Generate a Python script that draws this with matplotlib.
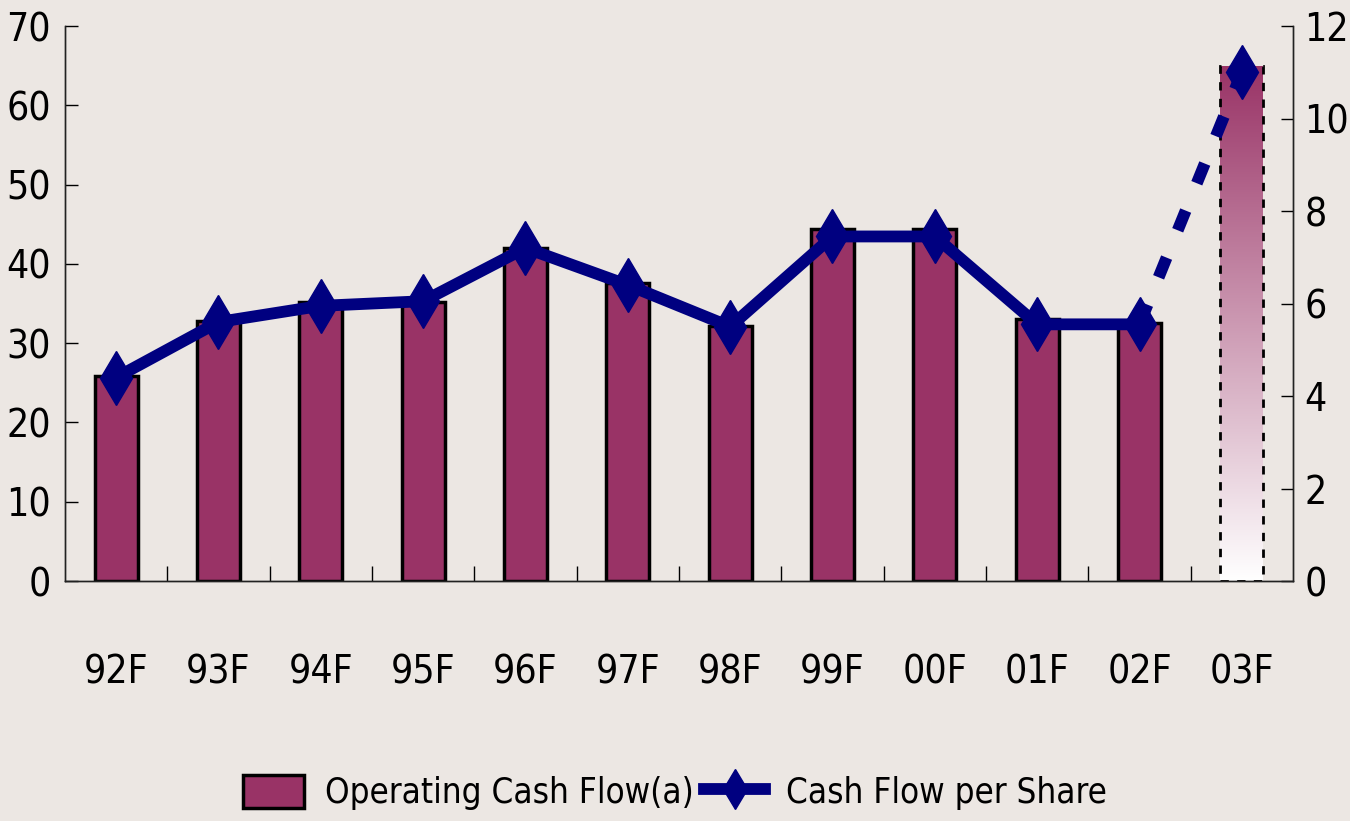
import numpy as np
import matplotlib
matplotlib.use("Agg")
import matplotlib.pyplot as plt
from matplotlib.patches import Patch
from matplotlib.lines import Line2D
from matplotlib.ticker import FixedLocator
from matplotlib.colors import LinearSegmentedColormap
from matplotlib import font_manager as fm

# ---- data ----
categories = ["92F", "93F", "94F", "95F", "96F", "97F", "98F", "99F", "00F", "01F", "02F", "03F"]
operating_cash_flow = [25.8, 32.8, 35.2, 35.2, 42.0, 37.6, 32.2, 44.4, 44.4, 33.1, 32.6, 65.0]
cash_flow_per_share = [4.4, 5.6, 5.95, 6.05, 7.2, 6.4, 5.5, 7.45, 7.45, 5.55, 5.55, 11.0]
left_ticks = [0, 10, 20, 30, 40, 50, 60, 70]
right_ticks = [0, 2, 4, 6, 8, 10, 12]
n_actual = 11  # first 11 are solid, last is forecast

BG = "#ECE7E3"
BAR = "#993366"
NAVY = "#000080"

cond = [f for f in fm.fontManager.ttflist
        if f.name == "DejaVu Sans" and "ondensed" in str(f.stretch) + f.fname]
plt.rcParams['font.family'] = ['DejaVu Sans']
if cond:
    plt.rcParams['font.stretch'] = 'condensed'
FS = 28 if cond else 24
LFS = 25 if cond else 21

fig = plt.figure(figsize=(13.5, 8.21), dpi=100, facecolor=BG)
ax = fig.add_axes([0.0481, 0.2923, 0.9097, 0.676])
ax.set_facecolor(BG)
ax2 = ax.twinx()

x = np.arange(len(categories))
bars = ax.bar(x[:n_actual], operating_cash_flow[:n_actual], width=0.42,
              color=BAR, edgecolor="black", linewidth=2.5, zorder=2)

# forecast bar with gradient + dashed outline
fb = ax.bar(x[n_actual:], operating_cash_flow[n_actual:], width=0.42,
            facecolor="none", edgecolor="black", linewidth=2.0,
            linestyle=(0, (3, 3)), zorder=3)
p = fb.patches[0]
grad = np.linspace(0, 1, 256).reshape(-1, 1)
cmap = LinearSegmentedColormap.from_list("g", ["#FFFFFF", BAR])
im = ax.imshow(grad, cmap=cmap, aspect="auto", origin="lower",
               extent=(p.get_x(), p.get_x() + p.get_width(), 0, p.get_height()),
               zorder=2)
im.set_clip_path(p.get_path(), p.get_transform())

ax.set_xlim(-0.5, len(categories) - 0.5)
ax.set_ylim(0, 70)
ax2.set_ylim(0, 12)

# line
LW = 8.5
ax2.plot(x[:n_actual], cash_flow_per_share[:n_actual], color=NAVY, linewidth=LW,
         marker="d", markersize=28, zorder=4, solid_joinstyle="round")
ax2.plot(x[n_actual - 1:], cash_flow_per_share[n_actual - 1:], color=NAVY, linewidth=LW,
         linestyle=(0, (1.8, 2.5)), zorder=4)
ax2.plot(x[n_actual:], cash_flow_per_share[n_actual:], color=NAVY, linestyle="none",
         marker="d", markersize=28, zorder=5)

# axes styling
for a in (ax, ax2):
    a.spines["top"].set_visible(False)
    for s in ("left", "right", "bottom"):
        a.spines[s].set_color("#222222")
        a.spines[s].set_linewidth(1.0)

ax.set_yticks(left_ticks)
ax.set_yticklabels([str(t) for t in left_ticks])
ax2.set_yticks(right_ticks)
ax2.set_yticklabels([str(t) for t in right_ticks])
ax.tick_params(axis="y", direction="in", length=9, width=1, labelsize=FS, pad=10)
ax2.tick_params(axis="y", direction="in", length=9, width=1, labelsize=FS, pad=8)

ax.set_xticks(x)
ax.set_xticklabels(categories)
ax.tick_params(axis="x", which="major", length=0, labelsize=FS, pad=52)
ax.xaxis.set_minor_locator(FixedLocator(list(x[:-1] + 0.5)))
ax.tick_params(axis="x", which="minor", direction="in", length=11, width=1)

# legend
handles = [
    Patch(facecolor=BAR, edgecolor="black", linewidth=2.5, label="Operating Cash Flow(a)"),
    Line2D([0], [0], color=NAVY, linewidth=LW, marker="d", markersize=20,
           label="Cash Flow per Share"),
]
fig.legend(handles=handles, loc="lower center", bbox_to_anchor=(0.5, -0.025), ncol=2,
           frameon=False, fontsize=LFS, handlelength=1.75, handleheight=1.1,
           handletextpad=0.6, columnspacing=0.3)

fig.savefig("out.png", dpi=100, facecolor=BG)
